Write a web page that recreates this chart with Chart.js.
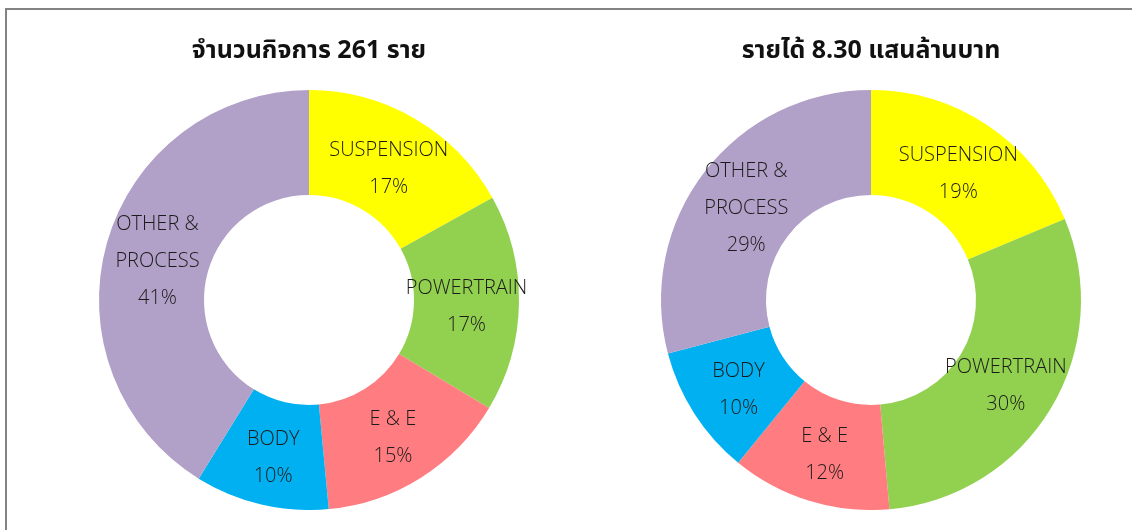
<!DOCTYPE html>
<html>
<head>
<meta charset="utf-8">
<script src="https://cdn.jsdelivr.net/npm/chart.js@4/dist/chart.umd.min.js"></script>
<style>
  html, body { margin: 0; padding: 0; background: #fff; }
  body { width: 1132px; height: 530px; position: relative; overflow: hidden; }
  #frame { position: absolute; left: 5px; top: 8px; width: 1140px; height: 540px;
           border-left: 2px solid #838383; border-top: 2px solid #838383; }
  .box { position: absolute; top: 30px; width: 500px; height: 480px; }
  #b1 { left: 59px; }
  #b2 { left: 621px; }
</style>
</head>
<body>
<div id="frame"></div>
<div class="box" id="b1"><canvas id="c1"></canvas></div>
<div class="box" id="b2"><canvas id="c2"></canvas></div>
<script>
const categories = ["SUSPENSION", "POWERTRAIN", "E & E", "BODY", "OTHER & PROCESS"];
const labelLines = [["SUSPENSION"], ["POWERTRAIN"], ["E & E"], ["BODY"], ["OTHER &", "PROCESS"]];
const firmsShare = [16.9, 16.7, 14.9, 10.3, 41.2];
const revenueShare = [18.7, 29.9, 12.3, 10.0, 29.1];
const colors = ["#FFFF00", "#92D050", "#FF7C80", "#00B0F0", "#B1A0C7"];
const title1 = "จำนวนกิจการ 261 ราย";
const title2 = "รายได้ 8.30 แสนล้านบาท";

const labelPlugin = {
  id: "ringLabels",
  afterDatasetsDraw(chart) {
    const ctx = chart.ctx;
    const meta = chart.getDatasetMeta(0);
    const data = chart.data.datasets[0].data;
    const total = data.reduce((a, b) => a + b, 0);
    ctx.save();
    ctx.font = "300 20px 'Open Sans', sans-serif";
    ctx.fillStyle = "#1b1b1b";
    ctx.textAlign = "center";
    ctx.textBaseline = "middle";
    meta.data.forEach((arc, i) => {
      const p = arc.tooltipPosition();
      const lines = labelLines[i].concat([Math.round(data[i] / total * 100) + "%"]);
      const lh = 37;
      const y0 = p.y + 4.5 - (lines.length - 1) * lh / 2;
      lines.forEach((t, k) => ctx.fillText(t, p.x, y0 + k * lh));
    });
    ctx.restore();
  }
};

function makeChart(id, values, title) {
  return new Chart(document.getElementById(id), {
    type: "doughnut",
    data: {
      labels: categories,
      datasets: [{ data: values, backgroundColor: colors, borderWidth: 0 }]
    },
    options: {
      responsive: true,
      maintainAspectRatio: false,
      animation: false,
      cutout: "50%",
      layout: { padding: { left: 40, right: 40, top: 0, bottom: 0 } },
      plugins: {
        legend: { display: false },
        tooltip: { enabled: false },
        title: {
          display: true,
          text: title,
          color: "#111",
          font: { family: "'Noto Sans Thai', 'Noto Sans', sans-serif", size: 25, weight: "bold", lineHeight: 1.2 },
          padding: { top: 8, bottom: 22 }
        }
      }
    },
    plugins: [labelPlugin]
  });
}
makeChart("c1", firmsShare, title1);
makeChart("c2", revenueShare, title2);
</script>
</body>
</html>
